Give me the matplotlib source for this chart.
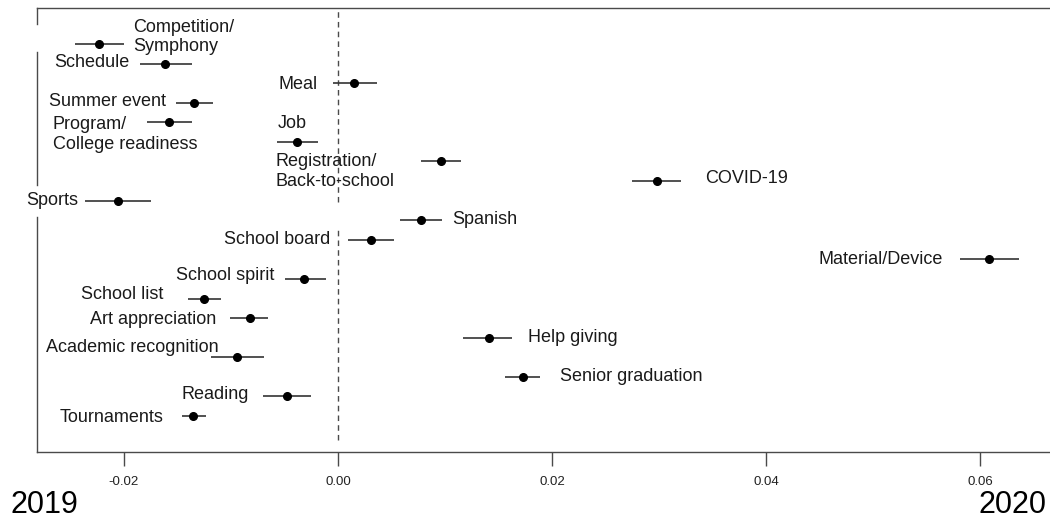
"""Topic prevalence difference 2019 vs 2020 (point estimate + 95% CI)."""
import matplotlib
matplotlib.use("Agg")
import matplotlib.pyplot as plt

plt.rcParams["font.family"] = ["Liberation Sans", "DejaVu Sans"]

# ── data (top row first) ────────────────────────────────
topics = [
    "Competition/\nSymphony", "Schedule", "Meal", "Summer event",
    "Program/\nCollege readiness", "Job", "Registration/\nBack-to-school",
    "COVID-19", "Sports", "Spanish", "School board", "Material/Device",
    "School spirit", "School list", "Art appreciation", "Help giving",
    "Academic recognition", "Senior graduation", "Reading", "Tournaments",
]
est = [-0.02234, -0.01617, 0.00150, -0.01346, -0.01580, -0.00383, 0.00963,
       0.02980, -0.02056, 0.00776, 0.00308, 0.06084, -0.00318, -0.01252,
       -0.00822, 0.01411, -0.00944, 0.01729, -0.00477, -0.01355]
ci_lo = [-0.02458, -0.01850, -0.00047, -0.01514, -0.01785, -0.00570, 0.00776,
         0.02748, -0.02364, 0.00579, 0.00093, 0.05813, -0.00495, -0.01402,
         -0.01009, 0.01168, -0.01187, 0.01561, -0.00701, -0.01458]
ci_hi = [-0.02000, -0.01364, 0.00364, -0.01168, -0.01364, -0.00187, 0.01150,
         0.03206, -0.01748, 0.00972, 0.00523, 0.06364, -0.00112, -0.01093,
         -0.00654, 0.01626, -0.00692, 0.01888, -0.00252, -0.01234]
xticks = [-0.02, 0.00, 0.02, 0.04, 0.06]

# label placement relative to the point (pixels), and horizontal alignment
label_pos = [
    (34, 7, "left"), (-36, 3, "right"), (-36, 1, "right"), (-28, 3, "right"),
    (-116, -12, "left"), (-19, 20, "left"), (-166, -10, "left"),
    (48, 5, "left"), (-40, 2, "right"), (31, 3, "left"), (-41, 2, "right"),
    (-46, 2, "right"), (-30, 5, "right"), (-41, 6, "right"), (-34, 1, "right"),
    (39, 2, "left"), (-18, 12, "right"), (37, 2, "left"), (-38, 4, "right"),
    (-30, 0, "right"),
]

n = len(topics)
ypos = list(range(n, 0, -1))
FRAME = "#4a4a4a"

fig = plt.figure(figsize=(10.5, 5.18), dpi=100)
ax = fig.add_axes([37 / 1050, 1 - 452 / 518, 1 - 37 / 1050, 444 / 518])
ax.set_xlim(-0.02813, 0.06654)
ax.set_ylim(-0.84, n + 1.84)

# zero reference line (interrupted behind a label, as in the original)
ax.axvline(0, ymin=0.563, ymax=1, color=FRAME, ls=(0, (4, 3)), lw=1)
ax.axvline(0, ymin=0.027, ymax=0.502, color=FRAME, ls=(0, (4, 3)), lw=1)

ax.hlines(ypos, ci_lo, ci_hi, color="#333333", lw=1.2)
ax.plot(est, ypos, "o", color="black", ms=5.5)

for t, x, y, (dx, dy, ha) in zip(topics, est, ypos, label_pos):
    ax.annotate(t, (x, y), xytext=(dx, dy), textcoords="offset pixels",
                ha=ha, va="center" if "\n" in t else "center_baseline",
                fontsize=13, color="#1a1a1a", linespacing=1.2)

# frame: top + bottom, left spine broken where labels sit
for s in ("left", "right"):
    ax.spines[s].set_visible(False)
for s in ("top", "bottom"):
    ax.spines[s].set_color(FRAME)
    ax.spines[s].set_linewidth(1)
for lo, hi in ((0.964, 1.0), (0.601, 0.901), (0.0, 0.529)):
    ax.axvline(-0.02813, ymin=lo, ymax=hi, color=FRAME, lw=1, clip_on=False)

ax.set_yticks([])
ax.set_xticks(xticks)
ax.set_xticklabels([f"{v:.2f}" for v in xticks])
ax.tick_params(axis="x", length=10, width=1, color=FRAME, pad=7,
               labelsize=9.5, labelcolor="#222222")

fig.text(10 / 1050, 5 / 518, "2019", fontsize=22, ha="left", va="baseline")
fig.text(1047 / 1050, 5 / 518, "2020", fontsize=22, ha="right", va="baseline")

fig.savefig("out.png", dpi=100)
